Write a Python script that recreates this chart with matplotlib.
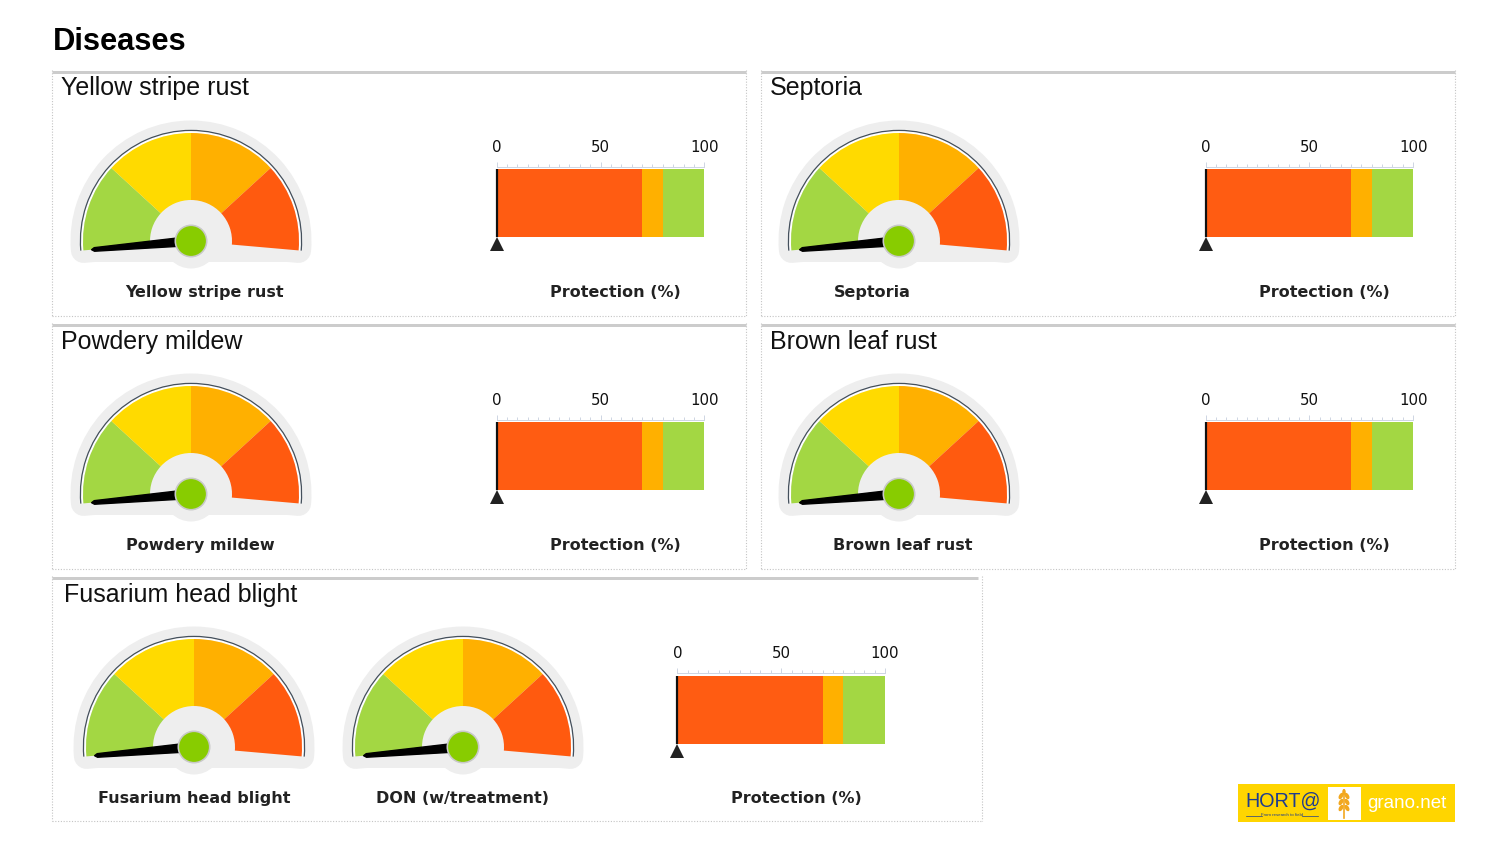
import numpy as np
import matplotlib
matplotlib.use("Agg")
import matplotlib.pyplot as plt
from matplotlib import font_manager
from matplotlib.patches import Wedge, Circle, Rectangle, Arc, Polygon, Ellipse

# ---------------- data ----------------
page_title = "Diseases"
panel_titles = ["Yellow stripe rust", "Septoria", "Powdery mildew", "Brown leaf rust",
                "Fusarium head blight"]
gauge_labels = ["Yellow stripe rust", "Septoria", "Powdery mildew", "Brown leaf rust",
                "Fusarium head blight", "DON (w/treatment)"]
gauge_values = [0, 0, 0, 0, 0, 0]
gauge_band_edges = [0, 25, 50, 75, 100]
gauge_band_colors = ["#A3D743", "#FFDA00", "#FFB000", "#FF5A0F"]
protection_values = [0, 0, 0, 0, 0]
protection_band_edges = [0, 70, 80, 100]
protection_band_colors = ["#FF5C12", "#FFB000", "#A3D743"]
protection_ticks = [0, 50, 100]
protection_label = "Protection (%)"

# ---------------- layout (pixels) ----------------
W, H = 1507, 850
PX = 0.72  # points per pixel at dpi 100
panels = [(52, 70, 746, 316), (761, 70, 1455, 316), (52, 323, 746, 569),
          (761, 323, 1455, 569), (52, 576, 982, 821)]
topbar_end = [746, 1455, 746, 1455, 978]
title_pos = [(61, 88), (770, 88), (61, 342), (770, 342), (64, 595)]
gauge_centers = [(191, 241), (899, 241), (191, 494), (899, 494), (194, 747), (463, 747)]
gauge_label_pos = [(205, 292.5), (872, 292.5), (200, 545.5), (903, 545.5), (194, 798.5), (462, 798.5)]
bullet_boxes = [(496.7, 169.3), (1205.5, 169.3), (496.7, 422.3), (1205.5, 422.3), (677.3, 675.7)]
bullet_w, bullet_h = 207.7, 68.0
prot_label_pos = [(615, 292.5), (1324, 292.5), (615, 545.5), (1324, 545.5), (796, 798.5)]

installed = {f.name for f in font_manager.fontManager.ttflist}
narrow = "Liberation Sans Narrow" if "Liberation Sans Narrow" in installed else "Liberation Sans"

fig = plt.figure(figsize=(W / 100, H / 100), dpi=100)
fig.patch.set_facecolor("white")

bg = fig.add_axes([0, 0, 1, 1])
bg.set_xlim(0, W)
bg.set_ylim(H, 0)
bg.axis("off")


def px_axes(x0, y0, x1, y1, zorder=2):
    return fig.add_axes([x0 / W, 1 - y1 / H, (x1 - x0) / W, (y1 - y0) / H], zorder=zorder)


bg.text(53, 42, page_title, fontsize=22.2, fontweight="bold", family="Liberation Sans",
        va="center", ha="left", color="#000000")

dot = (0, (1, 1.5))
for (x0, y0, x1, y1), xe, t, (tx, ty) in zip(panels, topbar_end, panel_titles, title_pos):
    for xs, ys in [([x0, x0], [y0, y1]), ([x1, x1], [y0, y1]), ([x0, x1], [y1, y1])]:
        bg.plot(xs, ys, color="#c4c4c4", lw=0.8, ls=dot)
    bg.plot([x0, xe], [y0 + 1.8, y0 + 1.8], color="#cccccc", lw=3.0 * PX, solid_capstyle="butt")
    bg.text(tx, ty, t, fontsize=18, family="Liberation Sans", va="center", ha="left",
            color="#111111")


def ang(v):
    return 185.0 - 1.9 * v


R_OUT, R_IN = 108.0, 41.0
for (cx, cy), val, lab, (lx, ly) in zip(gauge_centers, gauge_values, gauge_labels, gauge_label_pos):
    ax = px_axes(cx - 140, cy - 130, cx + 140, cy + 35)
    ax.set_xlim(-140, 140)
    ax.set_ylim(-35, 130)
    ax.axis("off")
    ax.add_patch(Wedge((0, 0), R_OUT, -5, 185, fc="#eeeeee", ec="#eeeeee",
                       lw=25 * PX, joinstyle="round"))
    ax.add_patch(Rectangle((-108, -21), 216, 21, fc="#eeeeee", ec="none"))
    ax.add_patch(Circle((0, 0), 27.5, fc="#eeeeee", ec="none"))
    ax.add_patch(Wedge((0, 0), 111.5, -5, 185, width=3.5, fc="white", ec="none"))
    ax.add_patch(Arc((0, 0), 2 * 110.6, 2 * 110.6, theta1=-5, theta2=185,
                     color="#45505c", lw=1.3 * PX))
    for i in range(4):
        ax.add_patch(Wedge((0, 0), R_OUT, ang(gauge_band_edges[i + 1]), ang(gauge_band_edges[i]),
                           width=R_OUT - R_IN, fc=gauge_band_colors[i], ec="none"))
    a = np.radians(ang(val))
    u = np.array([np.cos(a), np.sin(a)])
    n = np.array([-np.sin(a), np.cos(a)])
    L = 97.0
    pts = [4.6 * n, L * u + 1.8 * n, L * u + 2.8 * u, L * u - 1.8 * n, -4.6 * n]
    ax.add_patch(Polygon(pts, closed=True, fc="#000000", ec="#000000", lw=1.0, joinstyle="round"))
    ax.add_patch(Circle((0, 0), 15.7, fc="#88CC00", ec="#c9c9c9", lw=1.6 * PX))
    bg.text(lx, ly, lab, fontsize=11.5, fontweight="bold", family="DejaVu Sans",
            ha="center", va="center", color="#222222")

for (bx, by), val, (lx, ly) in zip(bullet_boxes, protection_values, prot_label_pos):
    ax = px_axes(bx, by, bx + bullet_w, by + bullet_h, zorder=3)
    ax.set_xlim(0, 100)
    ax.set_ylim(0, 1)
    for i in range(len(protection_band_colors)):
        ax.barh(0.5, protection_band_edges[i + 1] - protection_band_edges[i],
                left=protection_band_edges[i], height=1.0, color=protection_band_colors[i],
                edgecolor="none")
    ax.plot([val, val], [0, 1], color="#111111", lw=2.2 * PX, solid_capstyle="butt", clip_on=False)
    ax.plot([val], [-6.8 / bullet_h], marker="^", markersize=10.5, color="#222222",
            clip_on=False, markeredgewidth=0)
    for s in ["left", "right", "bottom"]:
        ax.spines[s].set_visible(False)
    ax.spines["top"].set_color("#cfd6e3")
    ax.spines["top"].set_linewidth(1 * PX)
    ax.spines["top"].set_position(("outward", 2.5 * PX))
    ax.xaxis.set_ticks_position("top")
    ax.set_xticks(protection_ticks)
    ax.set_xticks(np.arange(0, 101, 5), minor=True)
    ax.set_yticks([])
    ax.tick_params(axis="x", which="major", length=5.5 * PX, width=1 * PX, color="#cfd6e3",
                   pad=4.5, labelsize=10.8, labelcolor="#111111")
    ax.tick_params(axis="x", which="minor", length=3.5 * PX, width=1 * PX, color="#cfd6e3")
    for t in ax.get_xticklabels():
        t.set_family("DejaVu Sans")
    ax.patch.set_alpha(0)
    bg.text(lx, ly, protection_label, fontsize=11.5, fontweight="bold", family="DejaVu Sans",
            ha="center", va="center", color="#222222")

# ---------------- logo ----------------
bg.add_patch(Rectangle((1238, 784), 217, 37.5, fc="#FFD500", ec="none"))
bg.text(1245, 801, "HORT@", fontsize=16 if narrow != "Liberation Sans" else 14.2,
        family=narrow, color="#1f3c8f", ha="left", va="center")
bg.text(1282, 815.5, "From research to field", fontsize=3.2, family="Liberation Sans",
        color="#1f3c8f", ha="center", va="center")
bg.plot([1246, 1262], [815.5, 815.5], color="#1f3c8f", lw=0.5)
bg.plot([1302, 1318], [815.5, 815.5], color="#1f3c8f", lw=0.5)
bg.add_patch(Rectangle((1328, 787), 33, 33, fc="white", ec="none"))
bg.plot([1344, 1344], [790, 818], color="#F2A71E", lw=1.2)
for yy in [796, 802, 808]:
    bg.add_patch(Ellipse((1341, yy), 4, 7, angle=30, fc="#F2A71E", ec="none"))
    bg.add_patch(Ellipse((1347, yy), 4, 7, angle=-30, fc="#F2A71E", ec="none"))
bg.add_patch(Ellipse((1344, 792), 3.5, 6, fc="#F2A71E", ec="none"))
bg.text(1407, 803, "grano.net", fontsize=13.5, family="Liberation Sans", color="white",
        ha="center", va="center")

fig.savefig("out.png", dpi=100, facecolor="white")
